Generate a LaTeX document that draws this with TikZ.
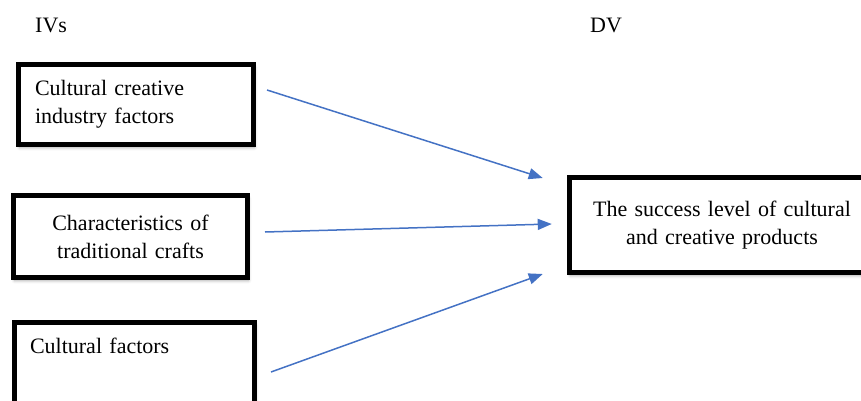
\documentclass[tikz,border=0pt]{standalone}
\usepackage{fontspec}
\setmainfont{Liberation Serif}
\usetikzlibrary{arrows.meta,shadows.blur}

\definecolor{arrowblue}{RGB}{68,114,196}

\tikzset{
  box/.style={draw=black, line width=5pt, fill=white, outer sep=0pt,
    inner sep=0pt, font=\fontsize{22}{28}\selectfont,
    blur shadow={shadow xshift=1pt, shadow yshift=-3pt,
      shadow blur radius=3pt, shadow opacity=35}},
  heading/.style={font=\fontsize{22}{28}\selectfont, anchor=base west, inner sep=0pt},
  arr/.style={draw=arrowblue, line width=1.5pt,
    -{Triangle[length=14pt, width=11pt]}}
}

\begin{document}
\begin{tikzpicture}[x=1pt, y=-1pt]
  \useasboundingbox (0,0) rectangle (861,401);
  \clip (0,0) rectangle (861,401);

  % column headings
  \node[heading] (iv) at (35,33) {IVs};
  \node[heading] (dvh) at (590,33) {DV};

  % independent variables
  \node[box, minimum width=235pt, minimum height=80pt,
        text width=202pt, align=left] (c1) at (136,104.5)
        {Cultural creative\\industry factors};
  \node[box, minimum width=234pt, minimum height=82pt,
        text width=200pt, align=center] (c2) at (130.5,236.5)
        {Characteristics of\\traditional crafts};
  \node[box, anchor=north west, minimum width=240pt,
        text width=209pt, align=left, text height=30.5pt, text depth=100pt]
        (c3) at (14.5,322.5) {Cultural factors};

  % dependent variable
  \node[box, minimum width=305.5pt, minimum height=95pt,
        text width=270pt, align=center] (dv) at (722,225)
        {The success level of cultural\\and creative products};

  % relations
  \draw[arr] ([xshift=13.5pt, yshift=14.5pt]c1.east) -- ([xshift=-26.5pt, yshift=47pt]dv.west);
  \draw[arr] ([xshift=17.5pt, yshift=4.5pt]c2.east) -- ([xshift=-17.5pt, yshift=1pt]dv.west);
  \draw[arr] ([xshift=16.5pt, yshift=-49.5pt]c3.north east) -- ([xshift=-26.5pt, yshift=-49pt]dv.west);
\end{tikzpicture}
\end{document}
